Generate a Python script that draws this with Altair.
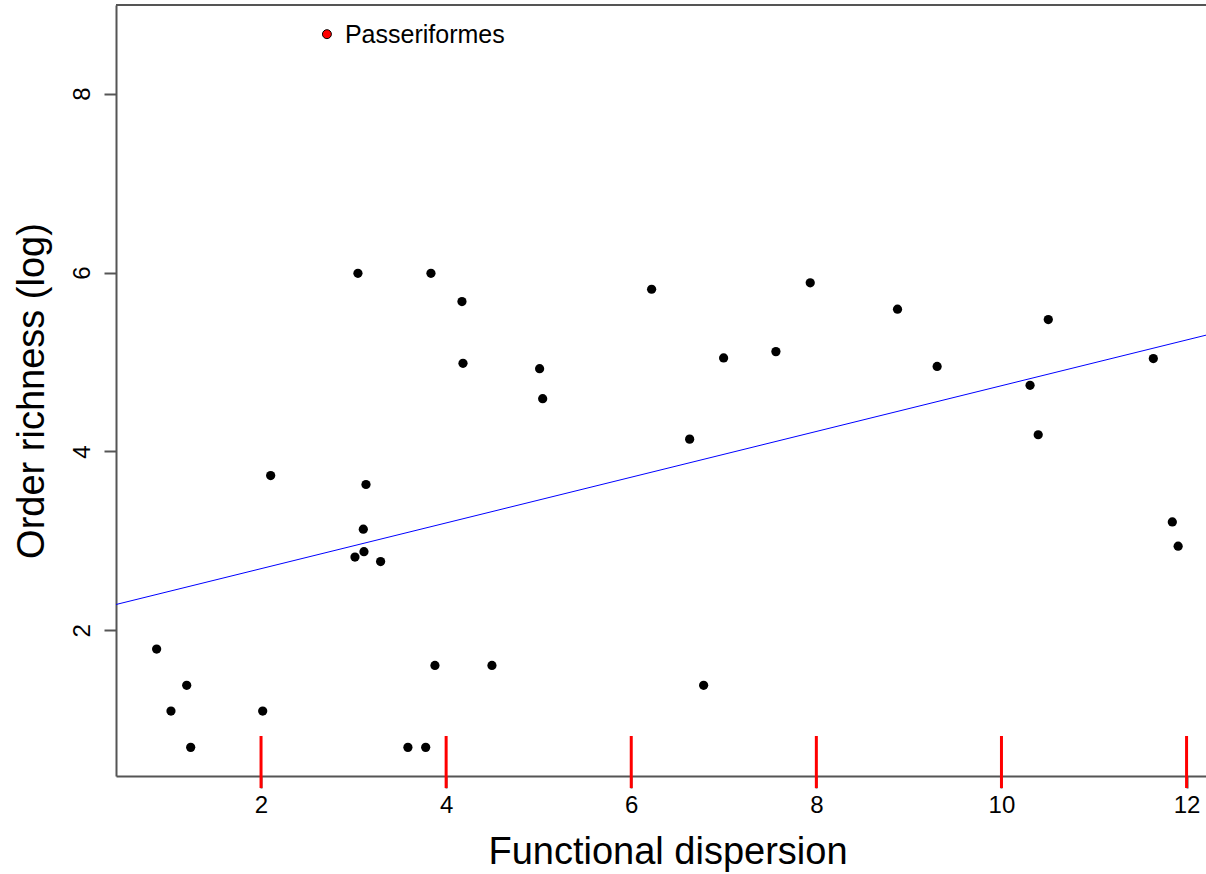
import altair as alt
import pandas as pd

# Functional dispersion (x) and log order richness (y) for each order
fd = [0.872, 1.027, 1.197, 1.240, 2.018, 2.104, 3.015, 3.047, 3.105, 3.112,
      3.134, 3.292, 3.587, 3.779, 3.836, 3.879, 4.171, 4.182, 4.495, 5.010,
      5.043, 6.220, 6.631, 6.782, 6.998, 7.563, 7.934, 8.877, 9.305, 10.309,
      10.397, 10.506, 11.641, 11.846, 11.909]
richness = [1.792, 1.099, 1.386, 0.693, 1.099, 3.731, 2.820, 5.991, 3.131, 2.880,
            3.631, 2.770, 0.693, 0.693, 5.991, 1.609, 5.676, 4.985, 1.609, 4.925,
            4.590, 5.813, 4.138, 1.386, 5.045, 5.116, 5.885, 5.590, 4.951, 4.739,
            4.187, 5.474, 5.038, 3.213, 2.941]

# Highlighted order
passer_fd = [2.712]
passer_rich = [8.664]
passer_name = ["Passeriformes"]

# Fitted line (intercept, slope)
fit_intercept = 2.179
fit_slope = 0.2556

x_domain = [0.433, 12.21]
y_domain = [0.373, 8.99]
x_ticks = [2, 4, 6, 8, 10, 12]
y_ticks = [2, 4, 6, 8]

pts = pd.DataFrame({"fd": fd, "rich": richness})
pas = pd.DataFrame({"fd": passer_fd, "rich": passer_rich, "name": passer_name})
fit = pd.DataFrame({"fd": x_domain,
                    "rich": [fit_intercept + fit_slope * v for v in x_domain]})
top = pd.DataFrame({"x1": [x_domain[0]], "x2": [x_domain[1]], "y": [y_domain[1]]})
xt = pd.DataFrame({"t": x_ticks})

FONT = "Liberation Sans"
AX = "#555555"
H = 771

xscale = alt.Scale(domain=x_domain, nice=False, zero=False)
yscale = alt.Scale(domain=y_domain, nice=False, zero=False)

xaxis = alt.Axis(title="Functional dispersion", values=x_ticks, format="d",
                 ticks=True, tickSize=12, tickWidth=2, tickColor=AX,
                 labelFontSize=24, labelPadding=5,
                 titleX=551.5, titleY=87, titleAlign="center",
                 titleBaseline="alphabetic")
yaxis = alt.Axis(title="Order richness (log)", values=y_ticks, format="d",
                 ticks=True, tickSize=12, tickWidth=2, tickColor=AX,
                 labelFontSize=24,
                 titleAngle=270, titleX=-73, titleY=385.5,
                 titleAlign="center", titleBaseline="alphabetic")

points = alt.Chart(pts).mark_circle(size=85, color="black", opacity=1).encode(
    x=alt.X("fd:Q", scale=xscale, axis=xaxis),
    y=alt.Y("rich:Q", scale=yscale, axis=yaxis),
)

line = alt.Chart(fit).mark_line(color="#0000ff", strokeWidth=1).encode(
    x=alt.X("fd:Q", scale=xscale, axis=xaxis),
    y=alt.Y("rich:Q", scale=yscale, axis=yaxis),
)

# top edge of the plot frame (R box whose right side is cropped)
frame_top = alt.Chart(top).mark_rule(color=AX, strokeWidth=2).encode(
    x=alt.X("x1:Q", scale=xscale, axis=xaxis),
    x2="x2:Q",
    y=alt.Y("y:Q", scale=yscale, axis=yaxis),
)

# x tick marks below the bottom axis line (diagnostic colour)
xtick_marks = alt.Chart(xt).mark_rule(color="red", strokeWidth=3, clip=False).encode(
    x=alt.X("t:Q", scale=xscale, axis=xaxis),
    y=alt.value(H - 40),
    y2=alt.value(H + 12),
)

pdot = alt.Chart(pas).mark_point(filled=True, shape="circle", fill="red",
                                 stroke="black", strokeWidth=1, size=80,
                                 opacity=1).encode(
    x=alt.X("fd:Q", scale=xscale, axis=xaxis),
    y=alt.Y("rich:Q", scale=yscale, axis=yaxis),
)

plabel = alt.Chart(pas).mark_text(align="left", baseline="middle", dx=18, dy=1,
                                  fontSize=25, font=FONT, color="black").encode(
    x=alt.X("fd:Q", scale=xscale, axis=xaxis),
    y=alt.Y("rich:Q", scale=yscale, axis=yaxis),
    text="name:N",
)

chart = alt.layer(points, line, frame_top, xtick_marks, pdot, plabel).properties(
    width=1090, height=H,
    padding={"left": 116, "top": 5, "right": 0, "bottom": 98},
    autosize=alt.AutoSizeParams(type="none"),
    background="white",
).configure_view(stroke=None).configure_axis(
    grid=False, domainColor=AX, domainWidth=2,
    labelFont=FONT, labelColor="black",
    titleFont=FONT, titleFontSize=38, titleFontWeight="normal", titleColor="black",
).configure_axisY(
    labelAngle=270, labelAlign="center", labelBaseline="alphabetic", labelPadding=15,
)

chart.save("out.html", embed_options={"renderer": "svg", "actions": False})
